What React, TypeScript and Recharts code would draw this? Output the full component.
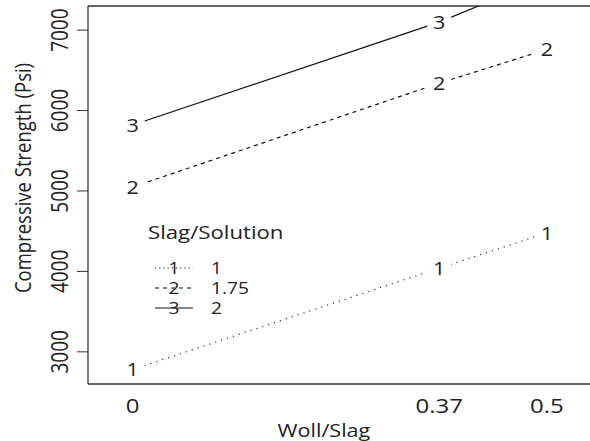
import React from "react";
import {
  LineChart, Line, XAxis, YAxis, ReferenceLine, Legend, Label,
} from "recharts";

const wollSlag = [0, 0.37, 0.5];
const ratio1 = [2780, 4040, 4480];
const ratio175 = [5050, 6340, 6760];
const ratio2 = [5820, 7100, 7650];
const seriesKeys = ["s1", "s2", "s3"];
const seriesMarks = ["1", "2", "3"];
const seriesNames = ["1", "1.75", "2"];
const yTicks = [3000, 4000, 5000, 6000, 7000];
const xTicks = [0, 0.37, 0.5];

const data = wollSlag.map((x, i) => ({ x, s1: ratio1[i], s2: ratio175[i], s3: ratio2[i] }));

const Y_MIN = 2600;
const Y_MAX = 7300;
const FONT = "'Open Sans', sans-serif";
const INK = "#222";
const SX = 1.2; // source image is stretched horizontally
const dashes = ["1.2 5", "4 4", undefined];

function StretchText({ x, y, size, rotate, anchor = "middle", children }: any) {
  const t = `translate(${x},${y}) scale(${SX},1)${rotate ? " rotate(-90)" : ""}`;
  return (
    <text transform={t} textAnchor={anchor} dominantBaseline="central"
      fontFamily={FONT} fontSize={size} fill={INK}>
      {children}
    </text>
  );
}

function XTick({ x, y, payload }: any) {
  return <StretchText x={x} y={y} size={20}>{String(payload.value)}</StretchText>;
}

function YTick({ x, y, payload }: any) {
  return <StretchText x={x - 18} y={y} size={19} rotate>{String(payload.value)}</StretchText>;
}

function markDot(mark: string) {
  return (p: any) => {
    const key = `${mark}-${p.index}`;
    if (p.cx == null || p.cy == null || p.value > Y_MAX) return <g key={key} />;
    return (
      <g key={key}>
        <rect x={p.cx - 12} y={p.cy - 10} width={24} height={20} fill="#fff" />
        <StretchText x={p.cx} y={p.cy} size={18}>{mark}</StretchText>
      </g>
    );
  };
}

function LegendBox() {
  return (
    <svg width={180} height={110} style={{ overflow: "visible" }}>
      <StretchText x={8} y={22} size={18.5} anchor="start">Slag/Solution</StretchText>
      {seriesKeys.map((k, i) => (
        <g key={k}>
          <line x1={15} x2={53} y1={58 + i * 20} y2={58 + i * 20} stroke="#111"
            strokeWidth={1.2} strokeDasharray={i === 0 ? "1.2 3" : dashes[i]} />
          <StretchText x={34} y={58 + i * 20} size={16}>{seriesMarks[i]}</StretchText>
          <StretchText x={71} y={58 + i * 20} size={16} anchor="start">{seriesNames[i]}</StretchText>
        </g>
      ))}
    </svg>
  );
}

export default function App() {
  return (
    <div style={{ position: "absolute", left: 0, top: 0, background: "#fff" }}>
      <LineChart width={590} height={441} data={data}
        margin={{ top: 6, right: 0, left: 0, bottom: 0 }}>
        <XAxis dataKey="x" type="number" domain={[-0.054, 0.552]} ticks={xTicks}
          allowDataOverflow tick={<XTick />} tickLine={false} tickSize={0} tickMargin={21}
          height={57} axisLine={{ stroke: "#333", strokeWidth: 1.3 }} interval={0}>
          <Label content={(p: any) => (
            <StretchText x={p.viewBox.x + p.viewBox.width * 0.47} y={430} size={18}>Woll/Slag</StretchText>
          )} />
        </XAxis>
        <YAxis type="number" domain={[Y_MIN, Y_MAX]} ticks={yTicks} allowDataOverflow
          width={88} tickSize={11} tickMargin={0} tick={<YTick />}
          tickLine={{ stroke: "#333" }} axisLine={{ stroke: "#333", strokeWidth: 1.3 }}>
          <Label content={(p: any) => (
            <StretchText x={22} y={p.viewBox.y + p.viewBox.height * 0.455} size={18.5} rotate>
              Compressive Strength (Psi)
            </StretchText>
          )} />
        </YAxis>
        <ReferenceLine y={Y_MAX} stroke="#333" strokeWidth={1.3} />
        <Legend content={() => <LegendBox />} align="center" verticalAlign="middle"
          wrapperStyle={{ position: "absolute", left: 140, top: 210, width: 180, height: 110 }} />
        {seriesKeys.map((k, i) => (
          <Line key={k} dataKey={k} name={seriesNames[i]} stroke={i === 0 ? "#333" : "#111"}
            strokeWidth={1.2} strokeDasharray={dashes[i]} dot={markDot(seriesMarks[i])}
            activeDot={false} isAnimationActive={false} type="linear" />
        ))}
      </LineChart>
    </div>
  );
}
